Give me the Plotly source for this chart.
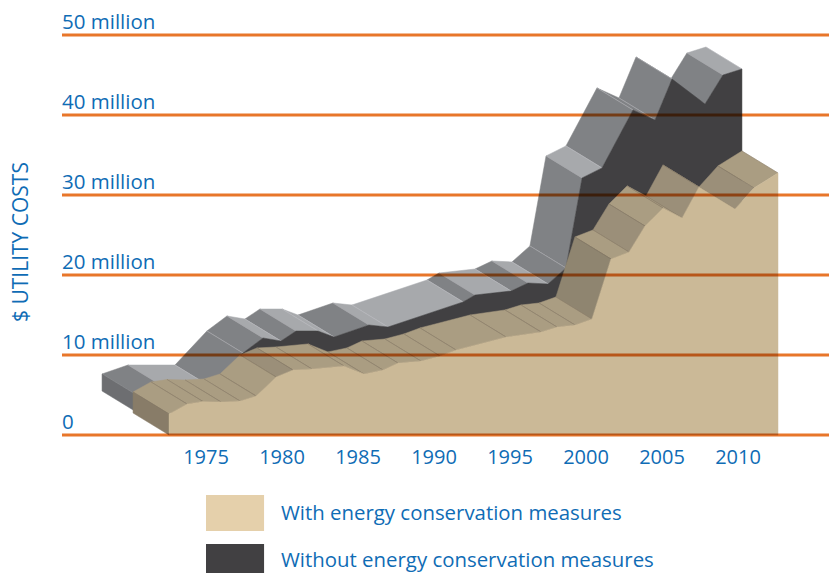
import plotly.graph_objects as go

# With conservation: front outline
TAN_YEARS = [1972.57, 1973.75, 1974.80, 1975.99, 1977.24, 1978.29, 1979.61, 1980.72, 1981.97, 1984.08,
             1985.39, 1986.64, 1987.63, 1989.14, 1990.39, 1991.45, 1994.74, 1997.04, 1998.09, 1999.28,
             2000.39, 2001.64, 2002.83, 2003.88, 2005.07, 2006.32, 2007.43, 2009.80, 2011.05, 2012.63]
TAN_VALUES = [2.63, 3.88, 4.19, 4.13, 4.25, 4.88, 7.25, 8.13, 8.25, 8.63,
              7.63, 8.13, 9.00, 9.25, 9.88, 10.63, 12.25, 12.88, 13.50, 13.75,
              14.50, 22.00, 22.88, 26.13, 28.38, 27.13, 31.00, 28.25, 30.88, 32.75]
# Without conservation
DARK_YEARS = [1970.53, 1972.24, 1975.33, 1977.43, 1978.75, 1979.93, 1980.92, 1982.37, 1983.42, 1985.72,
              1986.97, 1991.91, 1992.70, 1995.07, 1996.18, 1997.50, 1998.68, 1999.74, 2001.05, 2003.09,
              2004.54, 2005.66, 2007.83, 2009.01, 2010.26]
DARK_VALUES = [4.88, 6.00, 6.00, 10.25, 12.13, 11.75, 13.00, 13.00, 12.25, 13.75,
               13.50, 16.63, 17.50, 18.00, 19.00, 18.88, 20.88, 32.13, 33.38, 40.63,
               39.38, 44.50, 41.38, 45.00, 45.75]
# Depth of the extrusion, in axis units
DEPTH_YEARS = -2.37
DEPTH_VALUE = 2.75

Y_TICKS = [0, 10, 20, 30, 40, 50]
Y_LABELS = ["0", "10 million", "20 million", "30 million", "40 million", "50 million"]
X_LABELS = [1975, 1980, 1985, 1990, 1995, 2000, 2005, 2010]
LEGEND = ["With energy conservation measures", "Without energy conservation measures"]
Y_TITLE = "$ UTILITY COSTS"

# face shade per segment
T_L, T_M, T_S = "#AA9D82", "#9B8F79", "#8F8570"
TAN_SHADES = [T_L]*6 + [T_M] + [T_L]*13 + [T_S, T_L, T_M, T_L, T_L, T_M, T_M, T_M, T_L]
G_L, G_D = "#A7A9AC", "#808285"
DARK_SHADES = [G_D, G_L, G_D, G_D, G_L, G_D, G_L, G_L, G_D, G_L,
               G_L, G_D, G_L, G_D, G_L, G_D, G_D, G_L, G_D, G_D,
               G_D, G_D, G_D, G_L]
BLUE = "#0F6CB5"
FONT = "Open Sans"
PLOT_TOP, PLOT_BOTTOM = 0, 440
X_RANGE = [1965.526, 2015.987]

fig = go.Figure()


def poly(xs, ys, color):
    fig.add_trace(go.Scatter(x=xs, y=ys, mode="lines", fill="toself", fillcolor=color,
                             line=dict(color=color, width=0.5), hoverinfo="skip", showlegend=False))


def hair(xs, ys, color):
    fig.add_trace(go.Scatter(x=xs, y=ys, mode="lines", line=dict(color=color, width=0.4),
                             hoverinfo="skip", showlegend=False))


def solid(years, values, shades, side, front, base, hairc):
    n = len(years)
    for i in range(n - 2, -1, -1):
        x0, x1, v0, v1 = years[i], years[i + 1], values[i], values[i + 1]
        poly([x0, x1, x1 + DEPTH_YEARS, x0 + DEPTH_YEARS, x0],
             [v0, v1, v1 + DEPTH_VALUE, v0 + DEPTH_VALUE, v0], shades[i])
        hair([x1, x1 + DEPTH_YEARS], [v1, v1 + DEPTH_VALUE], hairc)
        hair([x0, x0 + DEPTH_YEARS], [v0, v0 + DEPTH_VALUE], hairc)
    x0, v0 = years[0], values[0]
    poly([x0, x0, x0 + DEPTH_YEARS, x0 + DEPTH_YEARS, x0],
         [base, v0, v0 + DEPTH_VALUE, base + DEPTH_VALUE, base], side)
    poly([years[0]] + years + [years[-1], years[0]],
         [base] + values + [base, base], front)


solid(DARK_YEARS, DARK_VALUES, DARK_SHADES, "#6D6E71", "#414042", DEPTH_VALUE, "#BFC1C4")
solid(TAN_YEARS, TAN_VALUES, TAN_SHADES, "#887C68", "#CBB997", 0, "#7D7260")

# Gridlines as the last six traces, so the page can blend them with what lies beneath
for t in Y_TICKS:
    fig.add_trace(go.Scatter(x=X_RANGE, y=[t, t], mode="lines", line=dict(color="#E8762A", width=3),
                             hoverinfo="skip", showlegend=False))


def py(px):
    return (PLOT_BOTTOM - px) / (PLOT_BOTTOM - PLOT_TOP)


fig.add_shape(type="rect", xref="x", yref="paper", x0=1975, x1=1978.82, y0=py(531), y1=py(495),
              fillcolor="#E5D0AB", line_width=0, layer="above")
fig.add_shape(type="rect", xref="x", yref="paper", x0=1975, x1=1978.82, y0=py(573), y1=py(544),
              fillcolor="#414042", line_width=0, layer="above")

for name, ypx in zip(LEGEND, [512, 559]):
    fig.add_annotation(text=name, xref="paper", yref="paper", x=(279 - 62) / 767, y=py(ypx),
                       xanchor="left", yanchor="middle", showarrow=False,
                       font=dict(family=FONT, size=20.4, color=BLUE, weight=500))
fig.add_annotation(text=Y_TITLE, xref="paper", yref="paper", x=(20 - 62) / 767, y=py(242),
                   xanchor="center", yanchor="middle", textangle=-90, showarrow=False,
                   font=dict(family=FONT, size=21, color=BLUE, weight=500))

fig.update_layout(
    width=829, height=573, margin=dict(l=62, r=0, t=PLOT_TOP, b=573 - PLOT_BOTTOM), autosize=False,
    paper_bgcolor="white", plot_bgcolor="white", showlegend=False,
    xaxis=dict(range=X_RANGE, tickvals=X_LABELS, ticktext=[str(v) for v in X_LABELS],
               showgrid=False, zeroline=False, showline=False, ticks="", ticklabelstandoff=3,
               tickfont=dict(family=FONT, size=20, color=BLUE, weight=500)),
    yaxis=dict(range=[-0.625, 54.375], tickvals=Y_TICKS, ticktext=Y_LABELS, showgrid=False, zeroline=False,
               showline=False, ticks="", ticklabelposition="inside top", ticklabelshift=1,
               ticklabelstandoff=-3,
               tickfont=dict(family=FONT, size=20.5, color=BLUE, weight=500)),
)

fig.write_html("out.html", config=dict(displayModeBar=False), post_script="""
var s = document.createElement('style');
s.textContent = 'html,body{margin:0;padding:0;overflow:hidden}' +
  '.scatterlayer > .trace:nth-last-child(-n+6){mix-blend-mode:multiply}';
document.head.appendChild(s);
""")
